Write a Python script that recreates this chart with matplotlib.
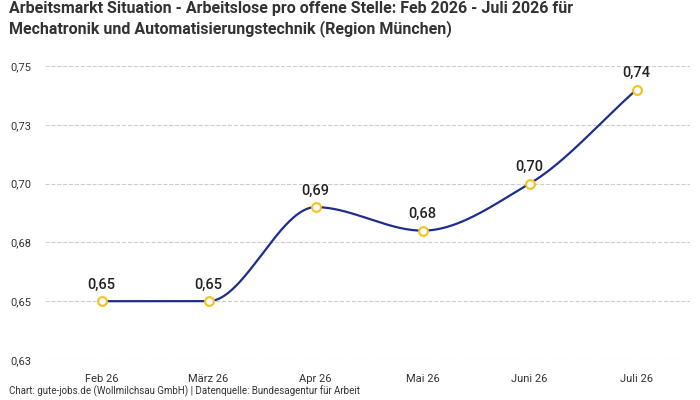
import numpy as np
import matplotlib.pyplot as plt

plt.rcParams['font.family'] = ['Roboto', 'DejaVu Sans']

months = ['Feb 26', 'März 26', 'Apr 26', 'Mai 26', 'Juni 26', 'Juli 26']
values = [0.65, 0.65, 0.69, 0.68, 0.70, 0.74]
yticks = [0.625, 0.65, 0.675, 0.70, 0.725, 0.75]
ylabels = ['0,63', '0,65', '0,68', '0,70', '0,73', '0,75']


def pchip(x, y, xs):
    # monotone cubic smoothing, same look as the original curve
    x = np.asarray(x, float); y = np.asarray(y, float)
    h = np.diff(x); d = np.diff(y) / h
    m = np.zeros_like(y)
    for k in range(1, len(y) - 1):
        if d[k - 1] * d[k] > 0:
            w1 = 2 * h[k] + h[k - 1]; w2 = h[k] + 2 * h[k - 1]
            m[k] = (w1 + w2) / (w1 / d[k - 1] + w2 / d[k])
    m[0] = d[0]; m[-1] = d[-1]
    out = []
    for t in xs:
        k = min(int(np.searchsorted(x, t, side='right')) - 1, len(h) - 1)
        s = (t - x[k]) / h[k]
        h00 = 2*s**3 - 3*s**2 + 1; h10 = s**3 - 2*s**2 + s
        h01 = -2*s**3 + 3*s**2; h11 = s**3 - s**2
        out.append(h00*y[k] + h10*h[k]*m[k] + h01*y[k+1] + h11*h[k]*m[k+1])
    return np.array(out)


xpos = np.arange(len(months))
xs = np.linspace(0, len(months) - 1, 400)

fig = plt.figure(figsize=(7, 4), dpi=100)
ax = fig.add_axes([0.064, 0.1, 0.922, 0.735])

ax.plot(xs, pchip(xpos, values, xs), color='#1f2d8c', lw=1.6, zorder=2)
ax.scatter(xpos, values, s=40, facecolor='white', edgecolor='#f5c21b', lw=1.5, zorder=3)
for x, v in zip(xpos, values):
    ax.text(x, v + 0.004, f'{v:.2f}'.replace('.', ','), ha='center', va='bottom',
            fontsize=10.5, fontweight='medium', color='#222222')

ax.set_xlim(-0.53, 5.5)
ax.set_ylim(0.625, 0.75)
ax.set_xticks(xpos, months)
ax.set_yticks(yticks, ylabels)
ax.tick_params(length=0, labelsize=8, colors='#333333')
ax.tick_params(axis='x', pad=10)
ax.tick_params(axis='y', pad=10)
ax.grid(axis='y', ls='--', color='#cccccc', lw=0.8)
ax.set_axisbelow(True)
for s in ax.spines.values():
    s.set_visible(False)

fig.text(0.013, 0.952, 'Arbeitsmarkt Situation - Arbeitslose pro offene Stelle: Feb 2026 - Juli 2026 für\n'
         'Mechatronik und Automatisierungstechnik (Region München)',
         fontsize=11.5, fontweight='bold', color='#333333', va='center', linespacing=1.35)
fig.text(0.013, 0.015, 'Chart: gute-jobs.de (Wollmilchsau GmbH) | Datenquelle: Bundesagentur für Arbeit',
         fontsize=7, color='#333333')

fig.savefig('out.png', dpi=100)
